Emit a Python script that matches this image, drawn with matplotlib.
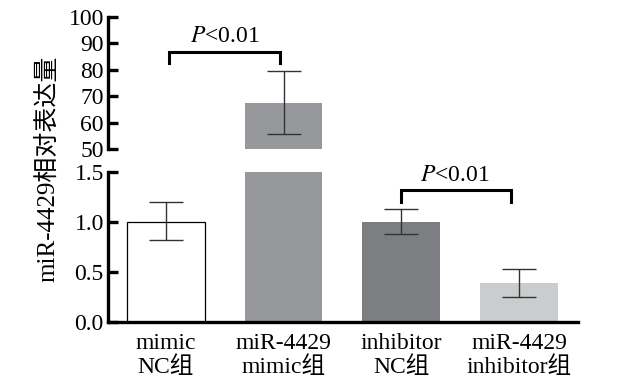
import matplotlib
matplotlib.use("Agg")
import matplotlib.pyplot as plt

plt.rcParams["font.family"] = ["Liberation Serif", "Noto Sans CJK SC"]
plt.rcParams["mathtext.fontset"] = "stix"

groups = ["mimic\nNC组", "miR-4429\nmimic组", "inhibitor\nNC组", "miR-4429\ninhibitor组"]
means = [1.0, 67.5, 1.0, 0.39]
err_low = [0.82, 55.5, 0.88, 0.25]
err_high = [1.20, 79.5, 1.13, 0.53]
colors = ["white", "#96989c", "#7d7e82", "#cbcccd"]
top_ticks = [50, 60, 70, 80, 90, 100]
bottom_ticks = [0.0, 0.5, 1.0, 1.5]

fig = plt.figure(figsize=(6.29, 3.84), dpi=100)
ax_top = fig.add_axes([0.1717, 0.612, 0.7473, 0.3437])
ax_bot = fig.add_axes([0.1717, 0.1615, 0.7473, 0.3905])

x = list(range(len(groups)))
w = 0.66
lw_spine = 2.4
fs = 17

for ax in (ax_top, ax_bot):
    for i in x:
        ec = "black" if colors[i] == "white" else colors[i]
        bottom = 50 if ax is ax_top else 0
        if ax is ax_top and means[i] < 50:
            continue
        ax.bar(i, means[i] - bottom, bottom=bottom, width=w, color=colors[i], edgecolor=ec,
               linewidth=0.9 if colors[i] == "white" else 0, zorder=2)
        yerr = [[means[i] - err_low[i]], [err_high[i] - means[i]]]
        ax.errorbar(i, means[i], yerr=yerr, fmt="none", ecolor="#333333",
                    elinewidth=1.0, capsize=12, capthick=1.0, zorder=3)
    ax.set_xlim(-0.49, 3.5)
    ax.spines["top"].set_visible(False)
    ax.spines["right"].set_visible(False)
    ax.spines["left"].set_linewidth(lw_spine)
    ax.spines["bottom"].set_linewidth(lw_spine)
    ax.tick_params(axis="y", direction="in", length=7, width=lw_spine,
                   labelsize=fs, pad=3)
    ax.tick_params(axis="x", direction="in", length=6, width=lw_spine,
                   labelsize=fs, pad=8)

ax_top.set_ylim(50, 100)
ax_top.set_yticks(top_ticks)
ax_top.set_yticklabels([str(t) for t in top_ticks])
ax_top.spines["bottom"].set_visible(False)
ax_top.set_xticks([])
ax_top.patch.set_visible(False)

ax_bot.set_ylim(0, 1.5)
ax_bot.set_yticks(bottom_ticks)
ax_bot.set_yticklabels([f"{t:.1f}" for t in bottom_ticks])
ax_bot.set_xticks(x)
ax_bot.set_xticklabels(groups, linespacing=1.1)
ax_bot.patch.set_visible(False)

# significance brackets
ax_top.plot([0.03, 0.03, 0.97, 0.97], [82.6, 86.7, 86.7, 82.6], color="black",
            lw=2.2, clip_on=False, solid_joinstyle="miter")
ax_top.text(0.5, 88.8, r"$P$<0.01", ha="center", va="bottom", fontsize=fs)
ax_bot.plot([2.0, 2.0, 2.93, 2.93], [1.20, 1.32, 1.32, 1.20], color="black",
            lw=2.2, clip_on=False, solid_joinstyle="miter")
ax_bot.text(2.45, 1.36, r"$P$<0.01", ha="center", va="bottom", fontsize=fs)

fig.text(0.075, 0.56, "miR-4429相对表达量", rotation=90, ha="center", va="center",
         fontsize=18)

fig.savefig("out.png", dpi=100)
